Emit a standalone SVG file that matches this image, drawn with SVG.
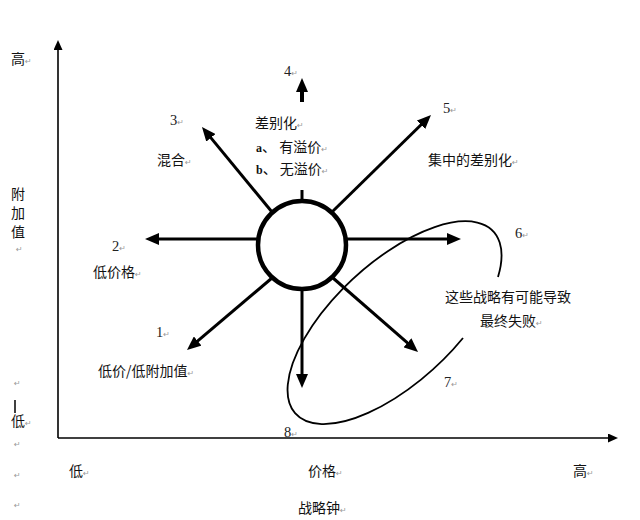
<svg xmlns="http://www.w3.org/2000/svg" width="640" height="520" viewBox="0 0 640 520">
<style>
.cn{font-family:"Noto Sans CJK SC","Liberation Sans",sans-serif;font-size:14px;fill:#111}
.num{font-family:"Liberation Serif",serif;font-size:14.5px;fill:#222}
.lat{font-family:"Liberation Serif",serif;font-size:12px;font-weight:bold;fill:#111}
.pm{font-family:"DejaVu Sans",sans-serif;font-size:8px;fill:#999}
.ax{stroke:#000;stroke-width:1.6;fill:none}
.ar{stroke:#000;stroke-width:3;fill:none}
</style>
<defs>
<marker id="ah" markerUnits="userSpaceOnUse" markerWidth="14" markerHeight="12" viewBox="0 0 14 12" refX="8" refY="6" orient="auto">
<path d="M0,0 L14,6 L0,12 z" fill="#000"/>
</marker>
<marker id="axh" markerUnits="userSpaceOnUse" markerWidth="10" markerHeight="9" viewBox="0 0 10 9" refX="4" refY="4.5" orient="auto">
<path d="M0,0 L10,4.5 L0,9 z" fill="#000"/>
</marker>
</defs>
<rect width="640" height="520" fill="#fff"/>

<g id="axes">
<line class="ax" x1="58" y1="438" x2="58" y2="46" marker-end="url(#axh)"/>
<line class="ax" x1="58" y1="438" x2="612" y2="438" marker-end="url(#axh)"/>
</g>

<g id="connectors">
<line class="ar" x1="302" y1="203" x2="302" y2="190"/>
<line x1="302" y1="102" x2="302" y2="84" stroke="#000" stroke-width="4" marker-end="url(#ah)"/>
<line class="ar" x1="259" y1="239" x2="151" y2="239" marker-end="url(#ah)"/>
<line class="ar" x1="346" y1="239" x2="455" y2="239" marker-end="url(#ah)"/>
<line class="ar" x1="272" y1="212" x2="205.8" y2="131.6" marker-end="url(#ah)"/>
<line class="ar" x1="332" y1="212" x2="426.7" y2="119.2" marker-end="url(#ah)"/>
<line class="ar" x1="272" y1="278" x2="191.6" y2="346.2" marker-end="url(#ah)"/>
<line class="ar" x1="302" y1="289" x2="302" y2="382" marker-end="url(#ah)"/>
<line class="ar" x1="333" y1="278" x2="413.5" y2="348.1" marker-end="url(#ah)"/>
</g>

<g id="center">
<circle cx="302" cy="245" r="44" fill="#fff" stroke="#000" stroke-width="4.5"/>
</g>

<g id="failure-ellipse">
<path d="M463,338 A134.5,60.4 -42.7 1 1 498,277" fill="none" stroke="#000" stroke-width="1.8"/>
</g>

<g id="axis-labels">
<text class="cn" x="11" y="64">高<tspan class="pm">↵</tspan></text>
<text class="cn" x="11" y="199">附</text>
<text class="cn" x="11" y="218">加</text>
<text class="cn" x="11" y="237">值</text>
<text class="pm" x="16" y="252">↵</text>
<text class="pm" x="14" y="386">↵</text>
<line x1="15" y1="400" x2="15" y2="413" stroke="#000" stroke-width="1.5"/>
<text class="cn" x="11" y="426">低<tspan class="pm">↵</tspan></text>
<text class="pm" x="14" y="447">↵</text>
<text class="pm" x="14" y="478">↵</text>
<text class="pm" x="14" y="508">↵</text>
<text class="cn" x="69" y="476">低<tspan class="pm">↵</tspan></text>
<text class="cn" x="308" y="476">价格<tspan class="pm">↵</tspan></text>
<text class="cn" x="573" y="476">高<tspan class="pm">↵</tspan></text>
<text class="cn" x="298" y="513">战略钟<tspan class="pm">↵</tspan></text>
</g>

<g id="route-1">
<text class="num" x="156" y="337">1<tspan class="pm">↵</tspan></text>
<text class="cn" x="98" y="376">低价/低附加值<tspan class="pm">↵</tspan></text>
</g>
<g id="route-2">
<text class="num" x="112" y="251">2<tspan class="pm">↵</tspan></text>
<text class="cn" x="93" y="277">低价格<tspan class="pm">↵</tspan></text>
</g>
<g id="route-3">
<text class="num" x="170" y="125">3<tspan class="pm">↵</tspan></text>
<text class="cn" x="157" y="165">混合<tspan class="pm">↵</tspan></text>
</g>
<g id="route-4">
<text class="num" x="284" y="76">4<tspan class="pm">↵</tspan></text>
<text class="cn" x="255" y="128">差别化<tspan class="pm">↵</tspan></text>
<text class="cn" x="256" y="152"><tspan class="lat">a</tspan>、 有溢价<tspan class="pm">↵</tspan></text>
<text class="cn" x="256" y="174"><tspan class="lat">b</tspan>、 无溢价<tspan class="pm">↵</tspan></text>
</g>
<g id="route-5">
<text class="num" x="443" y="113">5<tspan class="pm">↵</tspan></text>
<text class="cn" x="428" y="165">集中的差别化<tspan class="pm">↵</tspan></text>
</g>
<g id="route-6">
<text class="num" x="515" y="238">6<tspan class="pm">↵</tspan></text>
</g>
<g id="route-7">
<text class="num" x="444" y="387">7<tspan class="pm">↵</tspan></text>
</g>
<g id="route-8">
<text class="num" x="284" y="437">8<tspan class="pm">↵</tspan></text>
</g>
<g id="failure-note">
<text class="cn" x="445" y="302">这些战略有可能导致</text>
<text class="cn" x="480" y="326">最终失败<tspan class="pm">↵</tspan></text>
</g>
</svg>
